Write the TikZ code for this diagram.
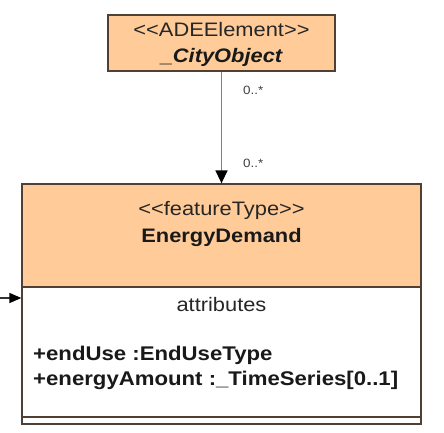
\documentclass[tikz,border=0pt]{standalone}
\usepackage{fontspec}
\setmainfont{Liberation Sans}[FakeStretch=1.12]
\usetikzlibrary{positioning,arrows.meta}
\definecolor{umlfill}{RGB}{255,204,153}
\definecolor{umldraw}{RGB}{80,64,52}
\tikzset{
  cls/.style   ={rectangle, draw=umldraw, fill=umlfill, line width=1.3pt, inner sep=0pt},
  cmp/.style   ={rectangle, draw=umldraw, fill=white, line width=1.3pt, inner sep=0pt},
  stereo/.style={inner sep=0pt, font=\fontsize{19.5}{23}\selectfont, text=black!85},
  cname/.style ={inner sep=0pt, font=\fontsize{19.5}{23}\selectfont\bfseries, text=black!90},
  attr/.style  ={inner sep=0pt, anchor=west, font=\fontsize{19.8}{23}\selectfont\bfseries, text=black!90},
  mult/.style  ={inner sep=0pt, anchor=west, font=\fontsize{12}{14}\selectfont, text=black!75},
  assoc/.style ={-{Triangle[length=13pt,width=12pt,black]}, draw=black!50, line width=1.6pt},
  inarr/.style ={-{Triangle[length=12pt,width=10pt,black]}, draw=black!80, line width=1.5pt},
}
\begin{document}
\begin{tikzpicture}[x=1pt,y=-1pt]
\useasboundingbox (0,0) rectangle (444,433);
% --- ADE element ---
\node[cls, minimum width=227pt, minimum height=56pt] (cityobj) at (221.5,43) {};
\node[stereo] (st1) at (221.5,30) {<\kern0pt<ADEElement>\kern0pt>};
\node[cname, font=\fontsize{19.5}{23}\selectfont\bfseries\itshape] (cn1) at (221.5,57) {\_CityObject};
% --- feature type ---
\node[cls, minimum width=399pt, minimum height=103pt] (hdr) at (221.5,235.5) {};
\node[cmp, minimum width=399pt, minimum height=130pt] (attrs) at (221.5,352) {};
\node[cmp, minimum width=399pt, minimum height=7pt] (ops) at (221.5,420.5) {};
\node[stereo] (st2) at (221.5,210) {<\kern0pt<featureType>\kern0pt>};
\node[cname] (cn2) at (221.5,237) {EnergyDemand};
\node[stereo] (sec) at (221.5,305) {attributes};
\node[attr] (a1) at (33,355) {+endUse :EndUseType};
\node[attr] (a2) at (33,380) {+energyAmount :\_TimeSeries[0..1]};
% association
\draw[assoc] (cityobj.south) -- (hdr.north);
\node[mult] (m1) at (243,90) {0..*};
\node[mult] (m2) at (243,163) {0..*};
% incoming from left
\coordinate (lin) at (0,298);
\draw[inarr] (lin) -- (lin -| attrs.west);
\end{tikzpicture}
\end{document}
